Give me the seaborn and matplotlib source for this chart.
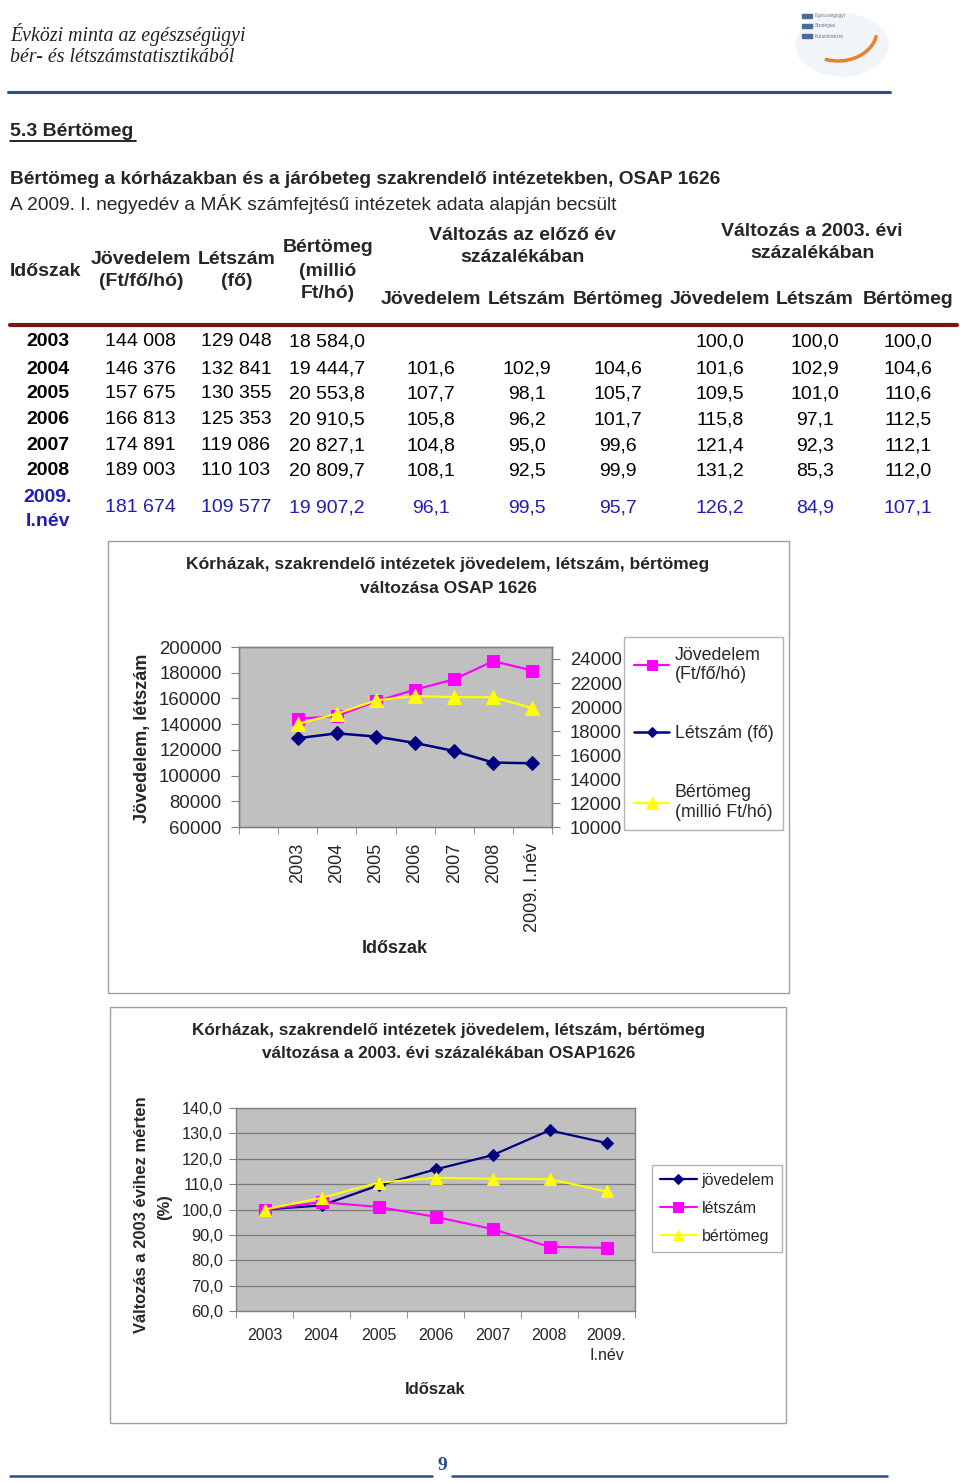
import numpy as np
import pandas as pd
import matplotlib
matplotlib.use("Agg")
import matplotlib.pyplot as plt
import seaborn as sns
from matplotlib.patches import Rectangle, Ellipse, Arc
from matplotlib.lines import Line2D

###############################################################
# data
years = ['2003', '2004', '2005', '2006', '2007', '2008', '2009. I.név']
jovedelem = [144008, 146376, 157675, 166813, 174891, 189003, 181674]      # Ft/fő/hó
letszam = [129048, 132841, 130355, 125353, 119086, 110103, 109577]        # fő
bertomeg = [18584.0, 19444.7, 20553.8, 20910.5, 20827.1, 20809.7, 19907.2]  # millió Ft/hó

# változás az előző év százalékában
elozo_jov = [None, 101.6, 107.7, 105.8, 104.8, 108.1, 96.1]
elozo_let = [None, 102.9, 98.1, 96.2, 95.0, 92.5, 99.5]
elozo_ber = [None, 104.6, 105.7, 101.7, 99.6, 99.9, 95.7]

# változás a 2003. évi százalékában
idx_jov = [100.0, 101.6, 109.5, 115.8, 121.4, 131.2, 126.2]
idx_let = [100.0, 102.9, 101.0, 97.1, 92.3, 85.3, 84.9]
idx_ber = [100.0, 104.6, 110.6, 112.5, 112.1, 112.0, 107.1]

chart2_xlabels = ['2003', '2004', '2005', '2006', '2007', '2008', '2009.\nI.név']

MAGENTA = '#FF00FF'
NAVY = '#000080'
YELLOW = '#FFFF00'
BLUE_ROW = '#1F1FB4'
PAGE_BLUE = '#2E4C8E'

sns.set_style("white")
plt.rcParams['font.family'] = ['Liberation Sans', 'DejaVu Sans']

W, H = 960, 1482
fig = plt.figure(figsize=(9.6, 14.82), dpi=100)


def fx(x):
    return x / W


def fy(y):
    return 1 - y / H


def box(x0, y0, x1, y1):
    return [x0 / W, 1 - y1 / H, (x1 - x0) / W, (y1 - y0) / H]


def txt(x, y, s, **kw):
    kw.setdefault('va', 'center')
    kw.setdefault('fontsize', 14)
    return fig.text(fx(x), fy(y), s, **kw)


def hline(x0, x1, y, color, lw):
    fig.add_artist(Line2D([fx(x0), fx(x1)], [fy(y), fy(y)], color=color, lw=lw,
                          transform=fig.transFigure))


###############################################################
# page header
serif = ['Liberation Serif', 'DejaVu Serif']
txt(10, 35, 'Évközi minta az egészségügyi', family=serif, style='italic', fontsize=14.3, color='#222222')
txt(10, 58, 'bér- és létszámstatisztikából', family=serif, style='italic', fontsize=14.3, color='#222222')
hline(8, 890, 92, PAGE_BLUE, 2.2)

# logo (rough)
fig.add_artist(Ellipse((fx(842), fy(45)), 92 / W, 62 / H, color='#F1F4F8', transform=fig.transFigure))
for i, word in enumerate(['Egészségügyi', 'Stratégiai', 'Kutatóintézet']):
    fig.add_artist(Rectangle((fx(802), fy(16 + 10 * i) - 2 / H), 10 / W, 4 / H, color='#4A6A9A',
                             transform=fig.transFigure))
    txt(815, 16 + 10 * i, word, fontsize=3.5, color='#6A7A90')
fig.add_artist(Arc((fx(838), fy(30)), 78 / W, 62 / H, theta1=235, theta2=355, color='#E8822A',
                   lw=2.5, transform=fig.transFigure))

txt(10, 131, '5.3 Bértömeg', fontweight='bold', fontsize=14)
hline(10, 136, 141, 'black', 1.2)
txt(10, 179, 'Bértömeg a kórházakban és a járóbeteg szakrendelő intézetekben, OSAP 1626',
    fontweight='bold', fontsize=13.8)
txt(10, 204, 'A 2009. I. negyedév a MÁK számfejtésű intézetek adata alapján becsült', fontsize=13.8)

###############################################################
# table
hb = dict(fontweight='bold', fontsize=14, ha='center')
txt(10, 271, 'Időszak', fontweight='bold', fontsize=14)
txt(141, 259, 'Jövedelem', **hb)
txt(141, 282, '(Ft/fő/hó)', **hb)
txt(237, 259, 'Létszám', **hb)
txt(237, 282, '(fő)', **hb)
txt(328, 247, 'Bértömeg', **hb)
txt(328, 271, '(millió', **hb)
txt(328, 294, 'Ft/hó)', **hb)
txt(522, 235, 'Változás az előző év', **hb)
txt(522, 258, 'százalékában', **hb)
txt(812, 231, 'Változás a 2003. évi', **hb)
txt(812, 254, 'százalékában', **hb)
sub_x = [431, 527, 618, 720, 815, 908]
for x, s in zip(sub_x, ['Jövedelem', 'Létszám', 'Bértömeg'] * 2):
    txt(x, 299, s, **hb)
hline(10, 957, 325, '#7B1416', 3)


def num(v, dec):
    if v is None:
        return ''
    s = f'{v:,.{dec}f}'.replace(',', ' ').replace('.', ',')
    return s


row_y = [342, 369, 394, 420, 446, 471, 508]
for i, y in enumerate(row_y):
    c = BLUE_ROW if i == 6 else 'black'
    if i == 6:
        txt(48, 498, '2009.', fontweight='bold', ha='center', color=c)
        txt(48, 522, 'I.név', fontweight='bold', ha='center', color=c)
    else:
        txt(48, y, years[i], fontweight='bold', ha='center', color=c)
    txt(105, y, num(jovedelem[i], 0), color=c)
    txt(201, y, num(letszam[i], 0), color=c)
    txt(289, y, num(bertomeg[i], 1), color=c)
    vals = [elozo_jov[i], elozo_let[i], elozo_ber[i], idx_jov[i], idx_let[i], idx_ber[i]]
    for x, v in zip(sub_x, vals):
        txt(x, y, num(v, 1), ha='center', color=c)

###############################################################
# chart 1: absolute values, two y axes
fig.add_artist(Rectangle((fx(108), fy(993)), 681 / W, 452 / H, fill=False, edgecolor='#A0A0A0',
                         lw=1, transform=fig.transFigure))
txt(448, 565, 'Kórházak, szakrendelő intézetek jövedelem, létszám, bértömeg', fontweight='bold',
    fontsize=12.6, ha='center')
txt(448, 589, 'változása OSAP 1626', fontweight='bold', fontsize=12.6, ha='center')

xpos = np.arange(1, 8)
ax1 = fig.add_axes(box(239, 647, 552, 827))
ax1.set_facecolor('#C0C0C0')
sns.lineplot(x=xpos, y=jovedelem, ax=ax1, color=MAGENTA, marker='s', markersize=9, lw=1.6,
             markeredgecolor=MAGENTA, label='Jövedelem\n(Ft/fő/hó)', legend=False)
sns.lineplot(x=xpos, y=letszam, ax=ax1, color=NAVY, marker='D', markersize=7, lw=1.8,
             markeredgecolor=NAVY, label='Létszám (fő)', legend=False)
ax1r = ax1.twinx()
sns.lineplot(x=xpos, y=bertomeg, ax=ax1r, color=YELLOW, marker='^', markersize=10, lw=1.6,
             markeredgecolor=YELLOW, label='Bértömeg\n(millió Ft/hó)', legend=False)

ax1.set_xlim(-0.5, 7.5)
ax1.set_ylim(60000, 200000)
ax1.set_yticks(np.arange(60000, 200001, 20000))
ax1.set_yticklabels([str(v) for v in range(60000, 200001, 20000)])
ax1r.set_ylim(10000, 25000)
ax1r.set_yticks(np.arange(10000, 24001, 2000))
ax1r.set_yticklabels([str(v) for v in range(10000, 24001, 2000)])
ax1.set_xticks(xpos)
ax1.set_xticklabels(years, rotation=90)
ax1.set_xticks(np.arange(-0.5, 8, 1), minor=True)
ax1.tick_params(axis='x', which='major', length=0, pad=11.5, labelsize=13)
ax1.tick_params(axis='x', which='minor', length=5, color='#808080', direction='out', bottom=True)
ax1.tick_params(axis='y', length=6, color='#808080', direction='out', left=True, pad=6.5, labelsize=13.4)
ax1r.tick_params(axis='y', length=6, color='#808080', direction='out', right=True, pad=7, labelsize=13.4)
for a in (ax1, ax1r):
    a.set_xlabel('')
    a.set_ylabel('')
    for sp in a.spines.values():
        sp.set_color('#808080')
        sp.set_linewidth(1)

txt(142, 738, 'Jövedelem, létszám', fontweight='bold', fontsize=13, rotation=90, ha='center')
txt(395, 948, 'Időszak', fontweight='bold', fontsize=13, ha='center')

h1, l1 = ax1.get_legend_handles_labels()
h2, l2 = ax1r.get_legend_handles_labels()
leg1 = ax1.legend(h1 + h2, l1 + l2, loc='upper left', bbox_to_anchor=(fx(624), fy(637)),
                  bbox_transform=fig.transFigure, frameon=True, fancybox=False, edgecolor='#A0A0A0',
                  fontsize=12.8, borderaxespad=0, borderpad=0.55, handlelength=2.0, handletextpad=0.3,
                  labelspacing=2.35, markerscale=0.8)
leg1.get_frame().set_linewidth(1)
leg1.get_frame().set_facecolor('white')
leg1.set_zorder(5)

###############################################################
# chart 2: index, 2003 = 100
fig.add_artist(Rectangle((fx(110), fy(1423)), 676 / W, 416 / H, fill=False, edgecolor='#A0A0A0',
                         lw=1, transform=fig.transFigure))
txt(449, 1030, 'Kórházak, szakrendelő intézetek jövedelem, létszám, bértömeg', fontweight='bold',
    fontsize=12.3, ha='center')
txt(449, 1053, 'változása a 2003. évi százalékában OSAP1626', fontweight='bold', fontsize=12.3, ha='center')

xpos2 = np.arange(7)
ax2 = fig.add_axes(box(236, 1108, 635, 1311))
ax2.set_facecolor('#C0C0C0')
ax2.set_axisbelow(True)
ax2.yaxis.grid(True, color='#7A7A7A', lw=0.9)
sns.lineplot(x=xpos2, y=idx_jov, ax=ax2, color=NAVY, marker='D', markersize=6.5, lw=1.6,
             markeredgecolor=NAVY, label='jövedelem', legend=False)
sns.lineplot(x=xpos2, y=idx_let, ax=ax2, color=MAGENTA, marker='s', markersize=8.5, lw=1.5,
             markeredgecolor=MAGENTA, label='létszám', legend=False)
sns.lineplot(x=xpos2, y=idx_ber, ax=ax2, color=YELLOW, marker='^', markersize=9, lw=1.5,
             markeredgecolor=YELLOW, label='bértömeg', legend=False)
ax2.set_xlim(-0.5, 6.5)
ax2.set_ylim(60, 140)
ax2.set_yticks(np.arange(60, 141, 10))
ax2.set_yticklabels([f'{v},0' for v in range(60, 141, 10)])
ax2.set_xticks(xpos2)
ax2.set_xticklabels(chart2_xlabels, linespacing=1.45)
ax2.set_xticks(np.arange(-0.5, 7, 1), minor=True)
ax2.tick_params(axis='x', which='major', length=0, pad=12, labelsize=11.5)
ax2.tick_params(axis='x', which='minor', length=5, color='#808080', direction='out', bottom=True)
ax2.tick_params(axis='y', length=5, color='#808080', direction='out', left=True, pad=4.5, labelsize=11.8)
ax2.set_xlabel('')
ax2.set_ylabel('')
for sp in ax2.spines.values():
    sp.set_color('#808080')
    sp.set_linewidth(1)

txt(142, 1215, 'Változás a 2003 évihez mérten', fontweight='bold', fontsize=11.9, rotation=90, ha='center')
txt(165, 1207, '(%)', fontweight='bold', fontsize=11.9, rotation=90, ha='center')
txt(435, 1389, 'Időszak', fontweight='bold', fontsize=12, ha='center')

leg2 = ax2.legend(loc='upper left', bbox_to_anchor=(fx(652), fy(1165)), bbox_transform=fig.transFigure,
                  frameon=True, fancybox=False, edgecolor='#A0A0A0', fontsize=11.5, borderaxespad=0,
                  borderpad=0.5, handlelength=2.3, handletextpad=0.3, labelspacing=0.8, markerscale=0.8)
leg2.get_frame().set_linewidth(1)

###############################################################
# footer
txt(442, 1466, '9', family=serif, fontweight='bold', fontsize=14, ha='center', color=PAGE_BLUE)
hline(10, 432, 1476, PAGE_BLUE, 1.8)
hline(452, 887, 1476, PAGE_BLUE, 1.8)

plt.savefig('out.png', dpi=100)
